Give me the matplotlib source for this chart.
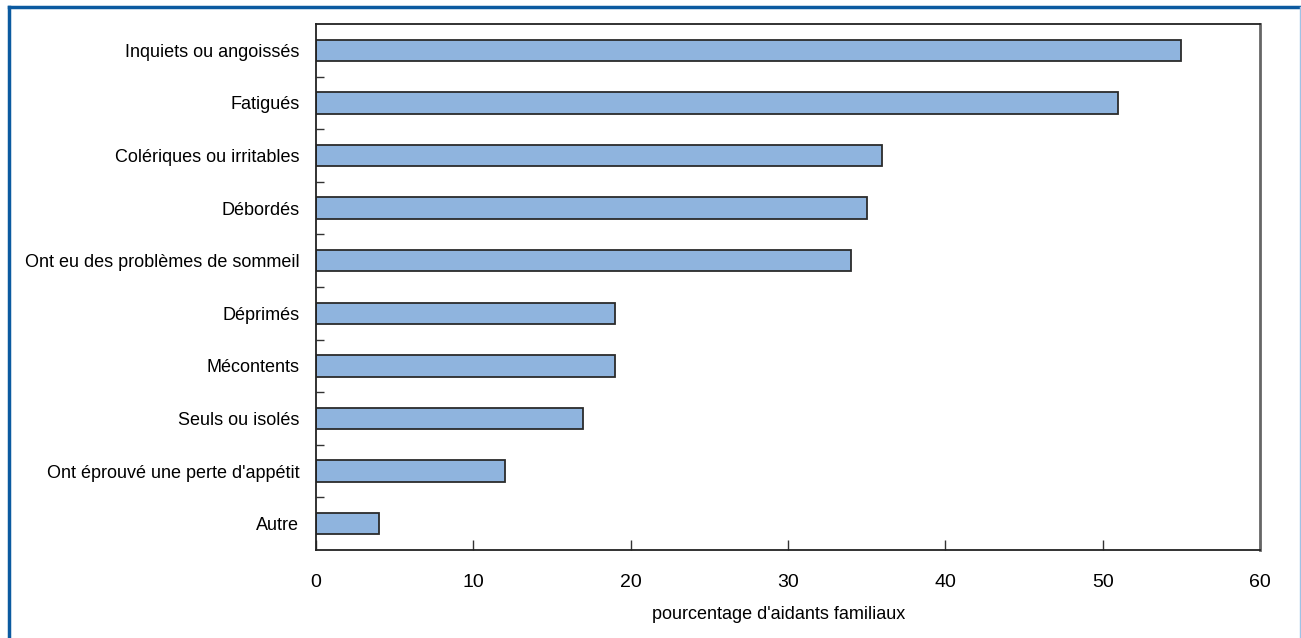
import matplotlib
matplotlib.use("Agg")
import matplotlib.pyplot as plt
from matplotlib.font_manager import fontManager
from matplotlib.lines import Line2D

names = {f.name for f in fontManager.ttflist}
fam = ['Liberation Sans Narrow', 'Liberation Sans', 'DejaVu Sans'] if 'Liberation Sans Narrow' in names else ['Liberation Sans', 'DejaVu Sans']
plt.rcParams['font.family'] = fam

categories = ["Inquiets ou angoissés", "Fatigués", "Colériques ou irritables", "Débordés",
              "Ont eu des problèmes de sommeil", "Déprimés", "Mécontents", "Seuls ou isolés",
              "Ont éprouvé une perte d'appétit", "Autre"]
values = [55, 51, 36, 35, 34, 19, 19, 17, 12, 4]
xticks = [0, 10, 20, 30, 40, 50, 60]
xlabel = "pourcentage d'aidants familiaux"

W, H = 1301, 638
fig = plt.figure(figsize=(W/100, H/100), dpi=100)
ax = fig.add_axes([316/W, 1-550/H, (1260-316)/W, (550-24)/H])

ypos = list(range(len(categories)))
ax.barh(ypos, values, height=0.41, color='#8fb4de', edgecolor='#2b2b2b', linewidth=1.3)
ax.set_ylim(len(categories)-0.5, -0.5)
ax.set_xlim(0, 60)
ax.set_yticks(ypos)
ax.set_yticklabels(categories, fontsize=13)
ax.set_yticks([i + 0.5 for i in range(len(categories)-1)], minor=True)
ax.tick_params(axis='y', which='major', length=0, pad=12)
ax.tick_params(axis='y', which='minor', direction='in', length=6, width=1, color='#333333')
ax.set_xticks(xticks)
ax.set_xticklabels([str(t) for t in xticks], fontsize=14)
ax.tick_params(axis='x', direction='in', length=7, width=1, color='#333333', pad=17)
ax.set_xlabel(xlabel, fontsize=13)
ax.xaxis.set_label_coords(0.49, -0.106)
for s in ['left', 'bottom', 'top']:
    ax.spines[s].set_color('#222222')
    ax.spines[s].set_linewidth(1.3)
ax.spines['right'].set_color('#666666')
ax.spines['right'].set_linewidth(2)

# figure frame
fig.add_artist(Line2D([9/W, 1], [1-7/H, 1-7/H], color='#0b5aa0', linewidth=2.5, transform=fig.transFigure))
fig.add_artist(Line2D([9/W, 9/W], [0, 1-7/H], color='#0b5aa0', linewidth=2.5, transform=fig.transFigure))
fig.add_artist(Line2D([1299.5/W, 1299.5/W], [0, 1-7/H], color='#9ec3e6', linewidth=1, transform=fig.transFigure))

fig.savefig("out.png", dpi=100)
